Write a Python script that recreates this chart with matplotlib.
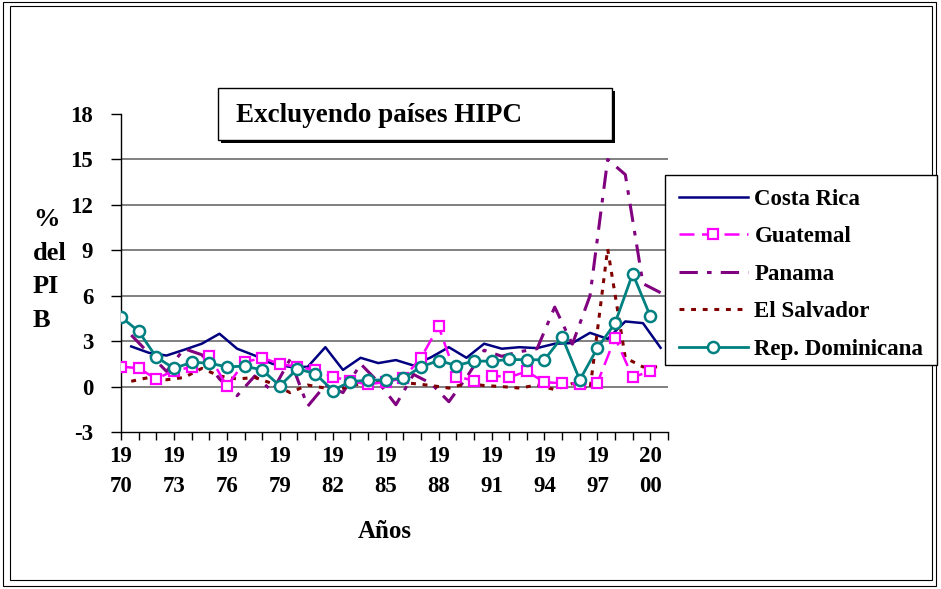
import matplotlib
matplotlib.use('Agg')
import matplotlib.pyplot as plt
from matplotlib.patches import Rectangle
import numpy as np

# ---------------- data (% del PIB) ----------------
years = list(range(1970, 2001))

rep_dominicana = [4.6, 3.65, 1.95, 1.2, 1.6, 1.55, 1.3, 1.35, 1.1, 0.05,
                  1.17, 0.86, -0.26, 0.33, 0.42, 0.44, 0.55, 1.3, 1.72, 1.39,
                  1.68, 1.68, 1.79, 1.77, 1.77, 3.27, 0.44, 2.54, 4.19, 7.46, 4.64]
guatemal = [1.32, 1.21, 0.51, 1.06, 1.28, 2.05, 0.02, 1.61, 1.9, 1.5,
            1.3, 1.1, 0.66, 0.35, 0.15, 0.3, 0.55, 1.9, 3.97, 0.66,
            0.4, 0.73, 0.62, 1.0, 0.29, 0.22, 0.18, 0.24, 3.22, 0.62, 1.01]
costa_rica = [2.65, 2.23, 2.05, 2.43, 2.83, 3.49, 2.5, 2.05, 1.5, 1.3,
              1.3, 2.6, 1.1, 1.9, 1.55, 1.75, 1.39, 1.94, 2.6, 1.9,
              2.83, 2.5, 2.6, 2.54, 2.83, 2.87, 3.55, 3.15, 4.3, 4.19, 2.56]
panama = [3.4, 2.2, 1.0, 2.5, 2.1, 0.5, -0.6, 0.7, -0.3, 1.8,
          -1.3, 0.1, -0.4, 1.5, 0.3, -1.2, 0.8, 0.2, -1.0, 0.6,
          2.4, 2.0, 2.3, 2.5, 5.25, 2.8, 6.0, 15.0, 14.0, 6.8, 6.2]
el_salvador = [0.35, 0.6, 0.45, 0.6, 1.2, 0.7, 0.5, 0.6, 0.2, -0.4,
               0.1, -0.1, -0.1, 0.2, 0.3, 0.3, 0.2, 0.07, -0.1, 0.2,
               0.07, 0.0, -0.1, 0.1, -0.2, 0.2, -0.2, 9.1, 1.9, 1.3, 1.3]

yticks = [-3, 0, 3, 6, 9, 12, 15, 18]

# the unmarked series sit a bit to the right of the year ticks in the original
shift = 0.58

##########################Plotting###########################
plt.rcParams['font.family'] = ['Liberation Serif', 'DejaVu Serif']
plt.rcParams['font.weight'] = 'bold'
f_size = 16.5

W, H = 941, 589
def fx(px):
    return px / W
def fy(py):
    return 1 - py / H

fig = plt.figure(figsize=(W / 100, H / 100), dpi=100)
ax = fig.add_axes([fx(121), fy(432), fx(668) - fx(121), fy(114) - fy(432)])

# grid lines (no line at the top, the x axis sits at -3)
for v in yticks[1:-1]:
    ax.axhline(v, color='#808080', lw=1.4, zorder=1)

xs = np.array(years, dtype=float)

ax.plot(xs + shift, costa_rica, color='#000080', lw=1.8, label='Costa Rica', zorder=3)
ax.plot(xs, guatemal, color='#FF00FF', lw=1.8, dashes=(6, 3), marker='s', ms=7.5,
        mfc='white', mec='#FF00FF', mew=1.6, label='Guatemal', zorder=4)
ax.plot(xs + shift, panama, color='#800080', lw=2.2, dashes=(6, 3, 1.5, 3),
        label='Panama', zorder=3)
ax.plot(xs + shift, el_salvador, color='#800000', lw=2.2, dashes=(1.6, 2.2),
        label='El Salvador', zorder=3)
ax.plot(xs, rep_dominicana, color='#008080', lw=2, marker='o', ms=8,
        mfc='white', mec='#008080', mew=1.8, label='Rep. Dominicana', zorder=5)

ax.set_xlim(1970, 2001)
ax.set_ylim(-3, 18)

for s in ['top', 'right']:
    ax.spines[s].set_visible(False)
for s in ['left', 'bottom']:
    ax.spines[s].set_color('black')
    ax.spines[s].set_linewidth(1)

ax.set_yticks(yticks)
ax.set_yticklabels([str(v) for v in yticks])
ax.tick_params(axis='y', direction='out', length=7, width=1, pad=13, labelsize=f_size)

xt = list(range(1970, 2002))
xl = [f"{str(y)[:2]}\n{str(y)[2:]}" if (y - 1970) % 3 == 0 and y <= 2000 else '' for y in xt]
ax.set_xticks(xt)
ax.set_xticklabels(xl)
ax.tick_params(axis='x', direction='out', length=6, width=1, pad=4, labelsize=f_size)
for lab in ax.get_xticklabels():
    lab.set_linespacing(1.55)

# axis titles
fig.text(fx(33), fy(270), '%\ndel\nPI\nB', ha='left', va='center',
         fontsize=19, linespacing=1.6)
fig.text(fx(385), fy(532), 'Años', ha='center', va='center', fontsize=18)

# title box
fig.add_artist(Rectangle((fx(221), fy(143)), fx(612) - fx(218), fy(88) - fy(140),
                         transform=fig.transFigure, fill=True, fc='black', ec='none', zorder=9))
fig.add_artist(Rectangle((fx(218), fy(140)), fx(612) - fx(218), fy(88) - fy(140),
                         transform=fig.transFigure, fc='white', ec='black', lw=1, zorder=10))
fig.text(fx(236), fy(116), 'Excluyendo países HIPC', ha='left', va='center',
         fontsize=19.5, zorder=11)

# legend box
fig.add_artist(Rectangle((fx(665), fy(365)), fx(937) - fx(665), fy(175) - fy(365),
                         transform=fig.transFigure, fc='white', ec='black', lw=1, zorder=9))
leg = ax.legend(loc='upper left', bbox_to_anchor=(fx(665), fy(175)),
                bbox_transform=fig.transFigure, frameon=False, borderaxespad=0,
                borderpad=0.6, handlelength=3.0, handletextpad=0.3,
                labelspacing=0.72, numpoints=1,
                prop={'family': 'Liberation Serif', 'weight': 'bold', 'size': f_size})
leg.set_zorder(12)
leg.remove()
fig.add_artist(leg)

# outer frame
fig.add_artist(Rectangle((fx(3), fy(586)), fx(936) - fx(3), fy(2) - fy(586),
                         transform=fig.transFigure, fill=False, ec='black', lw=0.8))
fig.add_artist(Rectangle((fx(10), fy(580)), fx(932) - fx(10), fy(6) - fy(580),
                         transform=fig.transFigure, fill=False, ec='black', lw=0.8))

fig.savefig('out.png', dpi=100)
